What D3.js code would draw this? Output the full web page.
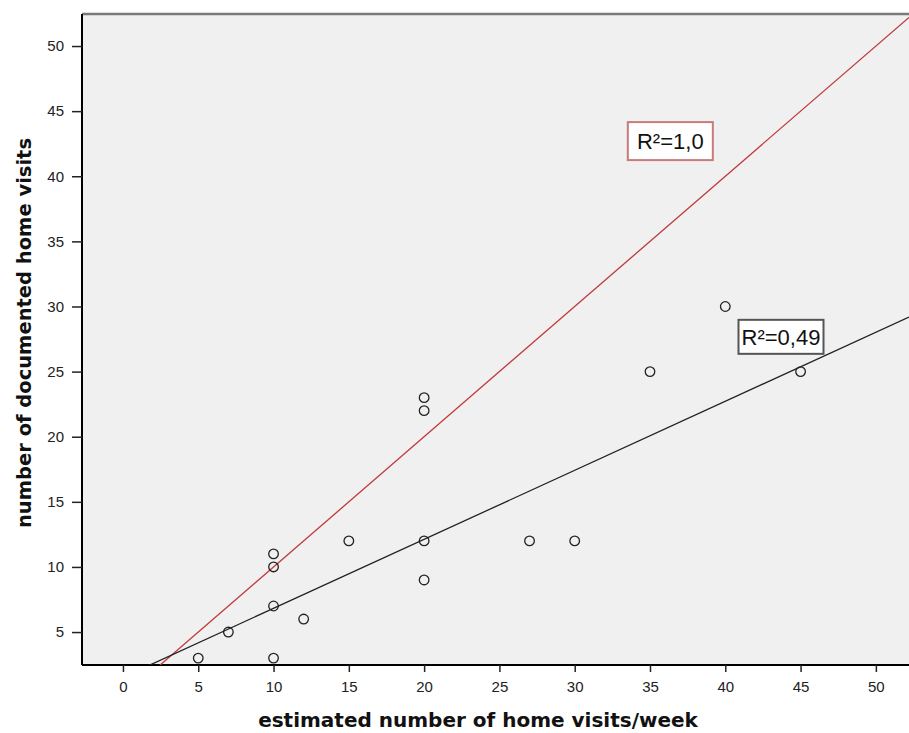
<!DOCTYPE html>
<html>
<head>
<meta charset="utf-8">
<script src="https://cdn.jsdelivr.net/npm/d3@7"></script>
<style>
  body { margin: 0; background: #fff; }
  svg { display: block; }
</style>
</head>
<body>
<svg id="chart" width="909" height="733"></svg>
<script>
// estimated visits/week (x) vs documented visits (y)
var estimated  = [5, 10, 7, 12, 10, 10, 10, 15, 20, 20, 20, 20, 27, 30, 35, 40, 45];
var documented = [3,  3, 5,  6,  7, 10, 11, 12, 12,  9, 22, 23, 12, 12, 25, 30, 25];
var xTicks = [0, 5, 10, 15, 20, 25, 30, 35, 40, 45, 50];
var yTicks = [5, 10, 15, 20, 25, 30, 35, 40, 45, 50];
// fit lines: reference y = x and linear fit
var fitLabels = ["R\u00b2=1,0", "R\u00b2=0,49"];
var fitSlopes = [1, 0.53];
var fitIntercepts = [0, 1.52];
var fitLabelPos = [[36.35, 42.7], [43.7, 27.67]];

var margin = {left: 82, right: 0, top: 14, bottom: 68};
var width = 909 - margin.left - margin.right;
var height = 733 - margin.top - margin.bottom;

var svg = d3.select("#chart");

var x = d3.scaleLinear().domain([-2.72, 52.2]).range([0, width]);
var y = d3.scaleLinear().domain([2.47, 52.46]).range([height, 0]);

var g = svg.append("g").attr("transform", "translate(" + margin.left + "," + margin.top + ")");

g.append("rect").attr("width", width).attr("height", height).attr("fill", "#f0f0f0");

g.append("clipPath").attr("id", "clip")
  .append("rect").attr("width", width).attr("height", height);

// top border
g.append("line").attr("x1", 0).attr("x2", width).attr("y1", 0).attr("y2", 0)
  .attr("stroke", "#7a7a7a").attr("stroke-width", 2.5);

var xAxis = d3.axisBottom(x).tickValues(xTicks).tickSize(7).tickPadding(9).tickSizeOuter(0);
var yAxis = d3.axisLeft(y).tickValues(yTicks).tickSize(10).tickPadding(8).tickSizeOuter(0);

var gx = g.append("g").attr("transform", "translate(0," + height + ")").call(xAxis);
var gy = g.append("g").call(yAxis);

[gx, gy].forEach(function (a) {
  a.attr("font-size", null).attr("font-family", null);
  a.select(".domain").attr("stroke", "#000").attr("stroke-width", 2);
  a.selectAll(".tick line").attr("stroke", "#222").attr("stroke-width", 1.5);
  a.selectAll(".tick text").style("font-family", "Liberation Sans, Arial, sans-serif")
    .style("font-size", "15px").attr("fill", "#222");
});
gx.select(".domain").attr("d", "M0,0H" + width);
gy.select(".domain").attr("d", "M0,0V" + height);

// fit lines
var lineColors = ["#c0393b", "#222"];
var plot = g.append("g").attr("clip-path", "url(#clip)");
fitSlopes.forEach(function (s, i) {
  var x0 = x.domain()[0], x1 = x.domain()[1];
  plot.append("line")
    .attr("x1", x(x0)).attr("y1", y(fitIntercepts[i] + s * x0))
    .attr("x2", x(x1)).attr("y2", y(fitIntercepts[i] + s * x1))
    .attr("stroke", lineColors[i]).attr("stroke-width", 1.3);
});

// points
plot.selectAll("circle")
  .data(estimated)
  .enter()
  .append("circle")
  .attr("cx", function (d) { return x(d); })
  .attr("cy", function (d, i) { return y(documented[i]); })
  .attr("r", 4.8)
  .attr("fill", "none")
  .attr("stroke", "#222")
  .attr("stroke-width", 1.3);

// R² labels
var boxColors = ["#c97a7a", "#555"];
var boxSizes = [[85, 38], [85, 34]];
fitLabels.forEach(function (t, i) {
  var cx = x(fitLabelPos[i][0]), cy = y(fitLabelPos[i][1]);
  var lg = g.append("g");
  lg.append("rect")
    .attr("x", cx - boxSizes[i][0] / 2).attr("y", cy - boxSizes[i][1] / 2)
    .attr("width", boxSizes[i][0]).attr("height", boxSizes[i][1])
    .attr("fill", "#fff").attr("stroke", boxColors[i]).attr("stroke-width", 2);
  lg.append("text").attr("x", cx).attr("y", cy)
    .attr("text-anchor", "middle").attr("dy", "0.36em")
    .attr("font-family", "Liberation Sans, Arial, sans-serif").attr("font-size", 22)
    .attr("fill", "#111").text(t);
});

// axis titles
svg.append("text")
  .attr("x", 478).attr("y", 727)
  .attr("text-anchor", "middle")
  .attr("font-family", "DejaVu Sans, sans-serif").attr("font-weight", "bold").attr("font-size", 20)
  .attr("fill", "#111")
  .text("estimated number of home visits/week");

svg.append("text")
  .attr("transform", "translate(31,333) rotate(-90)")
  .attr("text-anchor", "middle")
  .attr("font-family", "DejaVu Sans, sans-serif").attr("font-weight", "bold").attr("font-size", 19.5)
  .attr("fill", "#111")
  .text("number of documented home visits");
</script>
</body>
</html>
